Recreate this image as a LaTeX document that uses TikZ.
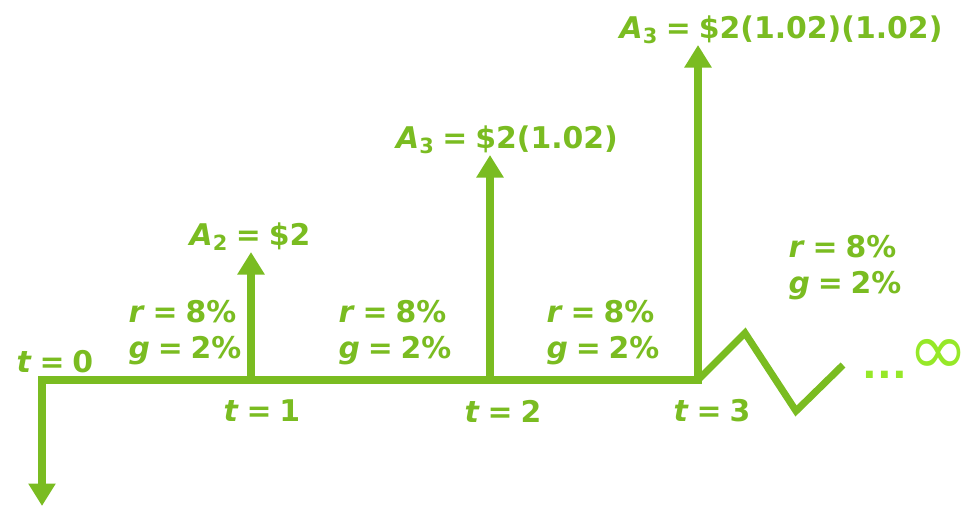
\documentclass[tikz,border=0pt]{standalone}
\usepackage{fontspec}
\setmainfont{DejaVu Sans}
\usepackage{xcolor}
\usetikzlibrary{positioning, arrows.meta}
\definecolor{cfgreen}{RGB}{122,188,33}
\definecolor{cflime}{RGB}{150,232,40}
\tikzset{every picture/.append style={thick}}
\newcommand{\lblfont}{\fontsize{17}{20.5}\selectfont\bfseries\spaceskip=0.26em\relax}
\tikzset{
  flow/.style={line width=4pt, draw=cfgreen, -{Triangle[width=0.52cm,length=0.45cm]}},
  axisline/.style={line width=4pt, draw=cfgreen},
  lbl/.style={text=cfgreen, font=\lblfont, inner sep=1pt},
  rates/.style={lbl, align=left}
}
\newcommand{\ivar}[1]{\textit{#1}}

\begin{document}
\begin{tikzpicture}

        \useasboundingbox (0,0) rectangle (19.38,10.12);

        % ==========================================
        % Time line
        % ==========================================
        \coordinate (t0) at (0.84,2.52);
        \coordinate (t1) at (5.02,2.52);
        \coordinate (t2) at (9.80,2.52);
        \coordinate (t3) at (13.96,2.52);
        \coordinate (pay0) at (0.84,0);

        \draw[axisline, line cap=rect] (t0) -- (t3);

        % Initial outflow at t = 0
        \draw[flow] (t0) -- (pay0);

        % ==========================================
        % Cash flows
        % ==========================================
        \coordinate (cf1) at (5.02,5.08);
        \coordinate (cf2) at (9.80,7.02);
        \coordinate (cf3) at (13.96,9.22);

        \draw[flow] (t1) -- (cf1);
        \draw[flow] (t2) -- (cf2);
        \draw[flow] (t3) -- (cf3);

        % Break towards infinity
        \coordinate (zigA) at (14.90,3.46);
        \coordinate (zigB) at (15.92,1.90);
        \coordinate (zigC) at (16.86,2.82);
        \draw[axisline, line join=miter] (t3) -- (zigA) -- (zigB) -- (zigC);

        \node[text=cflime, font=\fontsize{22}{24}\selectfont\bfseries, anchor=base, inner sep=0pt] (dots) at (17.70,2.56) {...};
        \node[text=cflime, font=\fontsize{41}{43}\selectfont, inner sep=0pt] (inf) at (18.76,2.98) {∞};

        % ==========================================
        % Labels
        % ==========================================
        \node[lbl] (lt0) at (1.10,2.88) {\ivar{t} = 0};
        \node[lbl] (lt1) at (5.24,1.90) {\ivar{t} = 1};
        \node[lbl] (lt2) at (10.06,1.90) {\ivar{t} = 2};
        \node[lbl] (lt3) at (14.24,1.90) {\ivar{t} = 3};

        \node[rates] (rg1) at (3.70,3.46) {\ivar{r} = 8\%\\\ivar{g} = 2\%};
        \node[rates] (rg2) at (7.90,3.46) {\ivar{r} = 8\%\\\ivar{g} = 2\%};
        \node[rates] (rg3) at (12.06,3.46) {\ivar{r} = 8\%\\\ivar{g} = 2\%};
        \node[rates] (rg4) at (16.90,4.76) {\ivar{r} = 8\%\\\ivar{g} = 2\%};

        \node[lbl] (a2) at (5.00,5.38) {\ivar{A}\textsubscript{2} = \$2};
        \node[lbl] (a3) at (10.14,7.32) {\ivar{A}\textsubscript{3} = \$2(1.02)};
        \node[lbl] (a4) at (15.62,9.52) {\ivar{A}\textsubscript{3} = \$2(1.02)(1.02)};

\end{tikzpicture}
\end{document}
